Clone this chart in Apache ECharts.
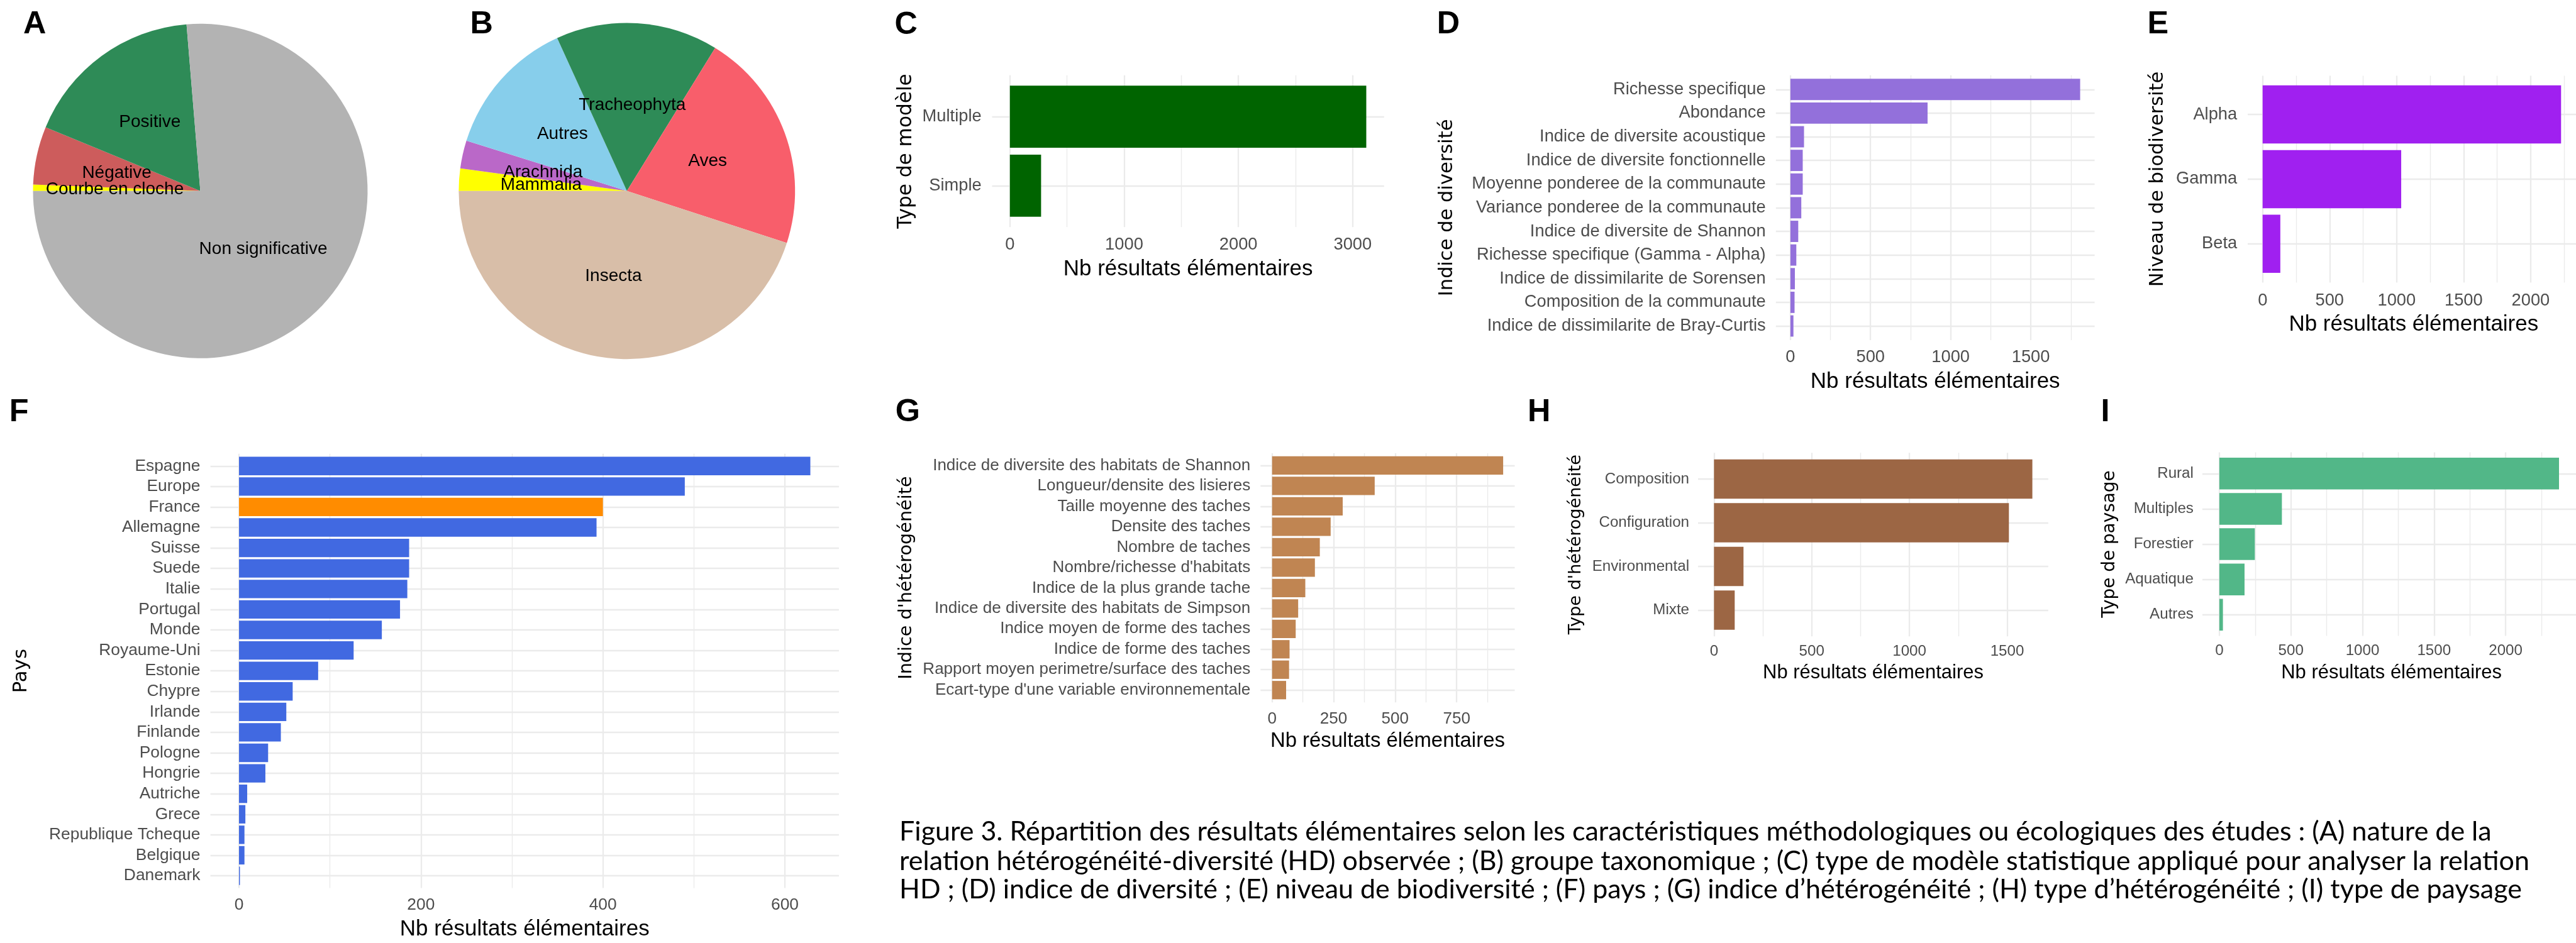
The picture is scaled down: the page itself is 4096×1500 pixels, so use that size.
<!DOCTYPE html>
<html>
<head>
<meta charset="utf-8">
<script src="https://cdn.jsdelivr.net/npm/echarts@6/dist/echarts.min.js"></script>
<style>
html, body { margin: 0; padding: 0; background: #fff; }
#chart { width: 4096px; height: 1500px; }
</style>
</head>
<body>
<div id="chart"></div>
<script>
// --- données ---
var pieALabels = ['Courbe en cloche', 'Négative', 'Positive', 'Non significative'];
var pieAValues = [21, 190, 592, 2587];
var pieBLabels = ['Mammalia', 'Arachnida', 'Autres', 'Tracheophyta', 'Aves', 'Insecta'];
var pieBValues = [73, 91, 453, 529, 719, 1526];

var modelCats = ['Multiple', 'Simple'];
var modelValues = [3119, 273];
var modelTicks = [0, 1000, 2000, 3000];
var modelMinor = [500, 1500, 2500];

var diversityCats = ['Richesse specifique', 'Abondance', 'Indice de diversite acoustique',
    'Indice de diversite fonctionnelle', 'Moyenne ponderee de la communaute',
    'Variance ponderee de la communaute', 'Indice de diversite de Shannon',
    'Richesse specifique (Gamma - Alpha)', 'Indice de dissimilarite de Sorensen',
    'Composition de la communaute', 'Indice de dissimilarite de Bray-Curtis'];
var diversityValues = [1808, 856, 85, 77, 77, 68, 49, 37, 28, 26, 19];
var diversityTicks = [0, 500, 1000, 1500];
var diversityMinor = [250, 750, 1250, 1750];

var levelCats = ['Alpha', 'Gamma', 'Beta'];
var levelValues = [2227, 1034, 132];
var levelTicks = [0, 500, 1000, 1500, 2000];
var levelMinor = [250, 750, 1250, 1750, 2250];

var countryCats = ['Espagne', 'Europe', 'France', 'Allemagne', 'Suisse', 'Suede', 'Italie',
    'Portugal', 'Monde', 'Royaume-Uni', 'Estonie', 'Chypre', 'Irlande', 'Finlande', 'Pologne',
    'Hongrie', 'Autriche', 'Grece', 'Republique Tcheque', 'Belgique', 'Danemark'];
var countryValues = [628, 490, 400, 393, 187, 187, 185, 177, 157, 126, 87, 59, 52, 46, 32, 29, 9, 7, 6, 6, 1];
var countryTicks = [0, 200, 400, 600];
var countryMinor = [100, 300, 500];

var heteroCats = ['Indice de diversite des habitats de Shannon', 'Longueur/densite des lisieres',
    'Taille moyenne des taches', 'Densite des taches', 'Nombre de taches',
    "Nombre/richesse d'habitats", 'Indice de la plus grande tache',
    'Indice de diversite des habitats de Simpson', 'Indice moyen de forme des taches',
    'Indice de forme des taches', 'Rapport moyen perimetre/surface des taches',
    "Ecart-type d'une variable environnementale"];
var heteroValues = [939, 417, 287, 238, 194, 174, 135, 106, 96, 71, 69, 57];
var heteroTicks = [0, 250, 500, 750];
var heteroMinor = [125, 375, 625, 875];

var typeCats = ['Composition', 'Configuration', 'Environmental', 'Mixte'];
var typeValues = [1629, 1509, 151, 106];
var typeTicks = [0, 500, 1000, 1500];
var typeMinor = [250, 750, 1250];

var landscapeCats = ['Rural', 'Multiples', 'Forestier', 'Aquatique', 'Autres'];
var landscapeValues = [2373, 437, 248, 176, 25];
var landscapeTicks = [0, 500, 1000, 1500, 2000];
var landscapeMinor = [250, 750, 1250, 1750, 2250];

var captionLines = [
    'Figure 3. Répartition des résultats élémentaires selon les caractéristiques méthodologiques ou écologiques des études : (A) nature de la',
    'relation hétérogénéité-diversité (HD) observée ; (B) groupe taxonomique ; (C) type de modèle statistique appliqué pour analyser la relation',
    'HD ; (D) indice de diversité ; (E) niveau de biodiversité ; (F) pays ; (G) indice d’hétérogénéité ; (H) type d’hétérogénéité ; (I) type de paysage'
];

// --- mise en page (coordonnées de la figure d'origine, réduites par S) ---
var S = 0.7;
var FONT = '"Liberation Sans", Arial, sans-serif';
var YFONT = '"DejaVu Sans", sans-serif';
var XTITLE = 'Nb résultats élémentaires';

var pieAColors = ['#FFFF00', '#CD5C5C', '#2E8B57', '#B3B3B3'];
var pieBColors = ['#FFFF00', '#BA68C8', '#87CEEB', '#2E8B57', '#F85E6B', '#D8BEA8'];

var panels = [
    { cats: modelCats, values: modelValues, ticks: modelTicks, minor: modelMinor, color: '#006400',
      box: [2253.5, 171, 3144, 516], text: 39, title: 50, yTitle: 'Type de modèle', yTitleX: 2058, yTitleSize: 44.5,
      labelOff: 41, yGap: 24, xTitleOff: 96 },
    { cats: diversityCats, values: diversityValues, ticks: diversityTicks, minor: diversityMinor, color: '#9370DB',
      box: [4034, 171, 4758, 773], text: 39, title: 50, yTitle: 'Indice de diversité', yTitleX: 3287, yTitleSize: 43.6,
      labelOff: 39, yGap: 23, xTitleOff: 95 },
    { cats: levelCats, values: levelValues, ticks: levelTicks, minor: levelMinor, color: '#A020F0',
      box: [5105.7, 172, 5859.5, 642], text: 39, title: 50, yTitle: 'Niveau de biodiversité', yTitleX: 4901, yTitleSize: 43.6,
      labelOff: 41.5, yGap: 24, xTitleOff: 95 },
    { cats: countryCats, values: countryValues, ticks: countryTicks, minor: countryMinor, color: '#4169E1',
      highlight: 'France', highlightColor: '#FF8C00',
      box: [478, 1031, 1905.6, 2018], text: 37.7, title: 50, yTitle: 'Pays', yTitleX: 49, yTitleSize: 44,
      labelOff: 39, yGap: 23, xTitleOff: 94 },
    { cats: heteroCats, values: heteroValues, ticks: heteroTicks, minor: heteroMinor, color: '#C08552',
      box: [2863.3, 1030, 3440.7, 1596], text: 37.2, title: 47, yTitle: 'Indice d\'hétérogénéité', yTitleX: 2059, yTitleSize: 41,
      labelOff: 37.5, yGap: 23, xTitleOff: 88 },
    { cats: typeCats, values: typeValues, ticks: typeTicks, minor: typeMinor, color: '#9C6644',
      box: [3857.2, 1029, 4652.7, 1446], text: 34.5, title: 44.2, yTitle: 'Type d\'hétérogénéité', yTitleX: 3580, yTitleSize: 38.7,
      labelOff: 34, yGap: 20, xTitleOff: 83.5 },
    { cats: landscapeCats, values: landscapeValues, ticks: landscapeTicks, minor: landscapeMinor, color: '#52B788',
      box: [5002.7, 1028, 5862, 1445], text: 34.5, title: 44.2, yTitle: 'Type de paysage', yTitleX: 4793, yTitleSize: 39.8,
      labelOff: 34, yGap: 20, xTitleOff: 84 }
];

var letters = [
    ['A', 53, 55.5], ['B', 1068, 55.5], ['C', 2032, 57], ['D', 3264, 56], ['E', 4878, 56],
    ['F', 21, 937], ['G', 2034, 937.5], ['H', 3470, 938], ['I', 4772, 938]
];

var grids = [], xAxes = [], yAxes = [], series = [], graphics = [];

function barItem(params, api) {
    var v = api.value(0), k = api.value(1);
    var a = api.coord([0, k - 0.45]);
    var b = api.coord([v, k + 0.45]);
    return {
        type: 'rect',
        shape: { x: a[0], y: Math.min(a[1], b[1]), width: b[0] - a[0], height: Math.abs(b[1] - a[1]) },
        style: { fill: api.visual('color') }
    };
}

function plainNumber(v) { return String(Math.round(v)); }

panels.forEach(function (p, gi) {
    var l = p.box[0] * S, t = p.box[1] * S, r = p.box[2] * S, b = p.box[3] * S;
    var n = p.cats.length;
    var M = Math.max.apply(null, p.values);
    var pos = p.cats.map(function (c, i) { return i + 1; });
    var fs = p.text * S;

    grids.push({ left: l, top: t, width: r - l, height: b - t });

    // axe principal : étiquettes + grille majeure
    xAxes.push({
        type: 'value', gridIndex: gi, min: -0.05 * M, max: 1.05 * M,
        axisLine: { show: false },
        axisTick: { show: false, customValues: p.ticks },
        axisLabel: { customValues: p.ticks, color: '#4D4D4D', fontSize: fs, fontFamily: FONT,
            margin: p.labelOff * S - fs / 2, formatter: plainNumber },
        splitLine: { show: true, customValues: p.ticks, lineStyle: { color: '#EBEBEB', width: 2.3 } }
    });
    // axe secondaire invisible : grille mineure
    xAxes.push({
        type: 'value', gridIndex: gi, min: -0.05 * M, max: 1.05 * M,
        axisLine: { show: false },
        axisTick: { show: false, customValues: p.minor },
        axisLabel: { show: false, customValues: p.minor },
        splitLine: { show: true, customValues: p.minor, lineStyle: { color: '#EBEBEB', width: 1.4 } }
    });
    yAxes.push({
        type: 'value', gridIndex: gi, min: 0.4, max: n + 0.6, inverse: true,
        axisLine: { show: false },
        axisTick: { show: false, customValues: pos },
        axisLabel: {
            customValues: pos, color: '#4D4D4D', fontSize: fs, fontFamily: FONT, margin: p.yGap * S,
            formatter: function (v) { return p.cats[Math.round(v) - 1]; }
        },
        splitLine: { show: true, customValues: pos, lineStyle: { color: '#EBEBEB', width: 2.3 } }
    });

    series.push({
        type: 'custom',
        xAxisIndex: 2 * gi, yAxisIndex: gi,
        z: 2, silent: true,
        renderItem: barItem,
        data: p.values.map(function (v, i) {
            var col = (p.highlight && p.cats[i] === p.highlight) ? p.highlightColor : p.color;
            return { value: [v, i + 1], itemStyle: { color: col } };
        })
    });

    graphics.push({
        type: 'text', x: (l + r) / 2, y: b + p.xTitleOff * S,
        style: { text: XTITLE, fontSize: p.title * S, fontFamily: FONT, fill: '#000',
            align: 'center', verticalAlign: 'middle', textAlign: 'center', textVerticalAlign: 'middle' }
    });
    graphics.push({
        type: 'text', x: p.yTitleX * S, y: (t + b) / 2, rotation: Math.PI / 2,
        style: { text: p.yTitle, fontSize: p.yTitleSize * S, fontFamily: YFONT, fill: '#000',
            align: 'center', verticalAlign: 'middle', textAlign: 'center', textVerticalAlign: 'middle' }
    });
});

function pieSeries(labels, values, colors, cx, cy, r) {
    return {
        type: 'pie', silent: true, center: [cx * S, cy * S], radius: [0, r * S],
        startAngle: 180, clockwise: true,
        avoidLabelOverlap: false, minShowLabelAngle: 0,
        labelLayout: { hideOverlap: false },
        itemStyle: { borderWidth: 0 },
        label: { show: true, position: 'inside', color: '#000', fontSize: 40 * S, fontFamily: FONT,
            overflow: 'none' },
        labelLine: { show: false },
        emphasis: { disabled: true },
        data: labels.map(function (name, i) {
            return { name: name, value: values[i], itemStyle: { color: colors[i] } };
        })
    };
}
series.push(pieSeries(pieALabels, pieAValues, pieAColors, 455, 434, 380));
series.push(pieSeries(pieBLabels, pieBValues, pieBColors, 1424, 434, 382));

letters.forEach(function (L) {
    graphics.push({
        type: 'text', x: L[1] * S, y: L[2] * S,
        style: { text: L[0], fontSize: 72 * S, fontWeight: 'bold', fontFamily: FONT, fill: '#000',
            align: 'left', verticalAlign: 'middle', textAlign: 'left', textVerticalAlign: 'middle' }
    });
});

// légende de figure : taille ajustée pour que la 1re ligne ait la largeur d'origine
var CAPFONT = 'Lato';
var ctx = document.createElement('canvas').getContext('2d');
ctx.font = '100px ' + CAPFONT;
var capSize = 100 * ((5660 - 2043) * S) / ctx.measureText(captionLines[0]).width;
var capY = [1890, 1957, 2022];
captionLines.forEach(function (line, i) {
    graphics.push({
        type: 'text', x: 2043 * S, y: capY[i] * S,
        style: { text: line, fontSize: capSize, fontFamily: CAPFONT, fill: '#000',
            align: 'left', verticalAlign: 'middle', textAlign: 'left', textVerticalAlign: 'middle' }
    });
});

var chart = echarts.init(document.getElementById('chart'));
chart.setOption({
    animation: false,
    backgroundColor: '#fff',
    textStyle: { fontFamily: FONT },
    grid: grids,
    xAxis: xAxes,
    yAxis: yAxes,
    series: series,
    graphic: { elements: graphics }
});
</script>
</body>
</html>
